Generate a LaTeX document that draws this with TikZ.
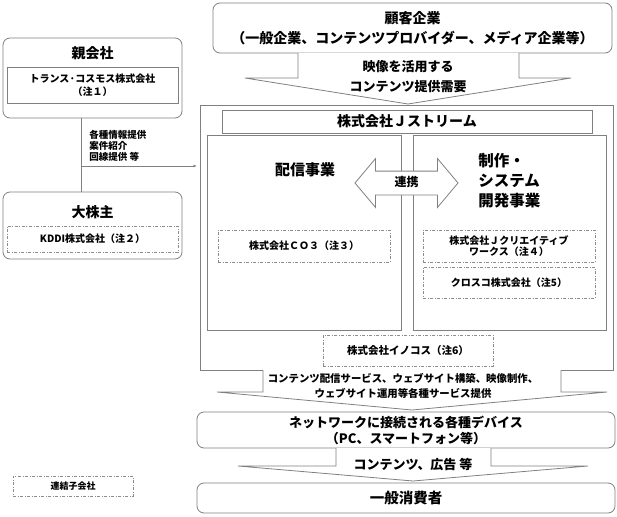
\documentclass[tikz,border=0pt]{standalone}
\usepackage{fontspec}
\setmainfont{Noto Sans CJK JP}
\usetikzlibrary{arrows.meta,shapes.arrows}
\definecolor{frame}{RGB}{128,128,128}
\definecolor{subframe}{RGB}{140,140,140}
\newcommand{\fsz}[2]{\fontsize{#1}{#2}\selectfont}

\begin{document}
\begin{tikzpicture}[%
        x=1pt, y=-1pt, line width=0.8pt,
        boxsize/.style 2 args={minimum width=#1pt, minimum height=#2pt},
        basic/.style={draw=frame, align=center, inner sep=0pt},
        rbox/.style={basic, rounded corners=7pt},
        sbox/.style={basic, fill=white},
        sub/.style={draw=subframe, dash pattern=on 3pt off 1.5pt on 1pt off 1.5pt, line width=0.7pt, fill=white, align=center, inner sep=0pt},
        label/.style={align=center, inner sep=0pt},
        txtL/.style={font=\bfseries\fsz{14}{20}},
        txtM/.style={font=\bfseries\fsz{13}{16}},
        txtS/.style={font=\bfseries\fsz{10}{12}},
        txtXS/.style={font=\bfseries\fsz{9.5}{11}},
        blockarrow/.style={draw=frame, fill=white},
        link/.style={draw=frame},
        flow/.style={draw=frame, -{Latex[length=3pt,width=3pt]}, shorten >=3pt}
        ]
        \useasboundingbox (0,0) rectangle (617,516);

        % left column
        \node[rbox, boxsize={179}{80}] (oya) at (92.5,78) {};
        \node[label, txtL] (oyattl) at (92.5,53) {親会社};
        \node[sbox, boxsize={171}{36}, font=\bfseries\fsz{10}{13}] (tcosmos) at (92.5,85) {トランス·コスモス株式会社\\（注１）};
        \node[rbox, boxsize={179}{67}] (kabu) at (92.5,225.5) {};
        \node[label, txtL] (kabuttl) at (92.5,212) {大株主};
        \node[sub, boxsize={171}{26}, txtS] (kddi) at (92.5,239) {KDDI株式会社（注２）};
        \coordinate (branch) at (81,166);
        \node[label, txtXS, anchor=west, align=left] (info) at (89,146) {各種情報提供\\案件紹介\\回線提供 等};

        % customers
        \node[rbox, boxsize={399}{50}, txtL] (kokyaku) at (412.5,28) {顧客企業\\（一般企業、コンテンツプロバイダー、メディア企業等）};

        % J-Stream group
        \node[basic, boxsize={413}{265}] (main) at (406.5,237.5) {};
        \node[basic, boxsize={194}{195}] (haishin) at (304,232.5) {};
        \node[basic, boxsize={193}{195}] (seisaku) at (509.5,232.5) {};
        \node[sbox, boxsize={370}{23}, font=\bfseries\fsz{14}{16}] (jstream) at (407,121.5) {株式会社Ｊストリーム};
        \node[label, font=\bfseries\fsz{15}{18}] (haishinttl) at (305,170) {配信事業};
        \node[label, font=\bfseries\fsz{15.5}{20}, anchor=west, align=left] (seisakuttl) at (478,180.5) {制作・\\システム\\開発事業};
        \node[draw=frame, fill=white, double arrow, double arrow head extend=12.5pt,
              double arrow tip angle=100, minimum height=103pt, inner xsep=2pt, inner ysep=6pt,
              text height=9pt, text depth=2pt, font=\bfseries\fsz{12}{14}] (renkei) at (406.5,183) {連携};
        \node[sub, boxsize={172}{32}, txtS] (co3) at (304,246) {株式会社ＣＯ３（注３）};
        \node[sub, boxsize={172}{32}, font=\bfseries\fsz{10}{11.5}] (jcw) at (509,246) {株式会社Ｊクリエイティブ\\ワークス（注４）};
        \node[sub, boxsize={172}{31}, txtS] (crossco) at (509,282.5) {クロスコ株式会社（注5）};
        \node[sub, boxsize={170}{31}, font=\bfseries\fsz{10.5}{12}] (innocos) at (408,350.5) {株式会社イノコス（注6）};

        % devices and consumers
        \node[rbox, boxsize={418}{36}, txtM] (devices) at (406,430) {ネットワークに接続される各種デバイス\\（PC、スマートフォン等）};
        \node[rbox, boxsize={418}{30}, font=\bfseries\fsz{14.5}{16}] (consumer) at (406,498) {一般消費者};

        % legend
        \node[sub, boxsize={120}{20}, font=\bfseries\fsz{9}{11}] (legend) at (73,486) {連結子会社};

        % connectors
        \draw[link] (branch |- oya.south) -- (branch |- kabu.north);
        \draw[flow] (branch) -- (branch -| main.west);

        % block arrows
        \draw[blockarrow] (298,53) -- (298,78) -- (245,78) -- (408,104) -- (571,78) -- (519,78) -- (519,53);
        \node[label, font=\bfseries\fsz{13}{20}] (demand) at (408,77) {映像を活用する\\コンテンツ提供需要};
        \draw[blockarrow] (263,370) -- (263,392) -- (217,392) -- (412,410) -- (607,392) -- (561,392) -- (561,370);
        \node[label, font=\bfseries\fsz{10.4}{15}] (service) at (403,385.5) {コンテンツ配信サービス、ウェブサイト構築、映像制作、\\ウェブサイト運用等各種サービス提供};
        \draw[blockarrow] (336,448) -- (336,466) -- (238,466) -- (413,481) -- (588,466) -- (491,466) -- (491,448);
        \node[label, txtM] (contents) at (413,465) {コンテンツ、広告 等};
    \end{tikzpicture}
\end{document}
